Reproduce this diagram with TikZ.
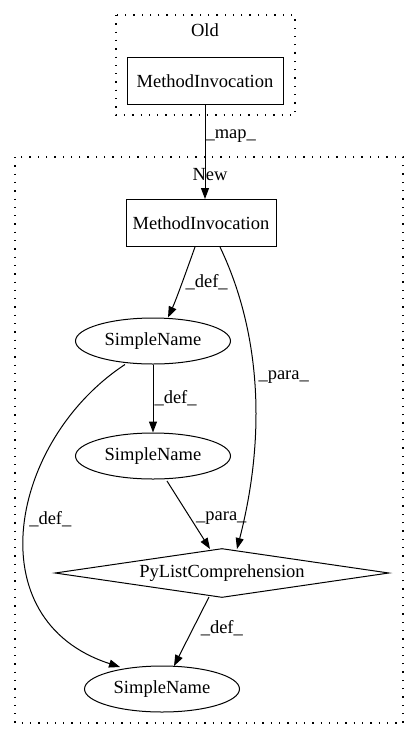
\documentclass[tikz,border=0pt]{standalone}
\usepackage{fontspec}
\setmainfont{Liberation Serif}
\usetikzlibrary{shapes.geometric,arrows.meta}
\begin{document}
\begin{tikzpicture}[x=1pt,y=-1pt,line width=1pt,
  every node/.style={font=\fontsize{18.5}{21}\selectfont},
  box/.style={draw,rectangle,minimum width=150pt,minimum height=47pt,inner sep=0pt},
  ell/.style={draw,ellipse,minimum width=155pt,minimum height=46pt,inner sep=0pt},
  dia/.style={draw,diamond,aspect=6.8,minimum width=334pt,minimum height=49pt,inner sep=0pt},
  cluster/.style={draw,line width=1.3pt,dash pattern=on 1.3pt off 7pt},
  edge/.style={-{Triangle[length=11pt,width=8pt]},line width=1pt},
  lab/.style={font=\fontsize{18.5}{21}\selectfont,inner sep=1pt}]
\useasboundingbox (0,0) rectangle (419,740);
\draw[cluster] (116,15) rectangle (295,115);
\node (oldlab) at (205,30) {Old};
\draw[cluster] (15,157) rectangle (403,723);
\node (newlab) at (210,175) {New};
\node[box,minimum width=156pt] (omi) at (205,81) {MethodInvocation};
\node[box] (nmi) at (201,223) {MethodInvocation};
\node[ell] (sn1) at (153,341) {SimpleName};
\node[ell] (sn2) at (153,456) {SimpleName};
\node[dia] (pl) at (222,573) {PyListComprehension};
\node[ell] (sn3) at (162,689) {SimpleName};
\draw[edge] (omi.south) -- (omi.south |- nmi.north) node[lab,pos=0.33,right=-1pt] {\_map\_};
\draw[edge] (nmi.south -| 195,0) .. controls (185,275) and (176,300) .. (sn1.north -| 168,0)
  node[lab,pos=0.45,right=2pt] {\_def\_};
\draw[edge] (nmi.south -| 220,0) .. controls (255,320) and (270,420) .. (237,549)
  node[lab,pos=0.5,right=3pt] {\_para\_};
\draw[edge] (sn1.south) -- (sn2.north) node[lab,midway,right=0pt] {\_def\_};
\draw[edge] (sn1.south -| 125,0) .. controls (10,440) and (-25,620) .. (120,667)
  node[lab,pos=0.48,right=2pt] {\_def\_};
\draw[edge] (167,481) -- (210,549) node[lab,pos=0.55,right=4pt] {\_para\_};
\draw[edge] (209,597) -- (174,666) node[lab,pos=0.45,right=6pt] {\_def\_};
\end{tikzpicture}
\end{document}
